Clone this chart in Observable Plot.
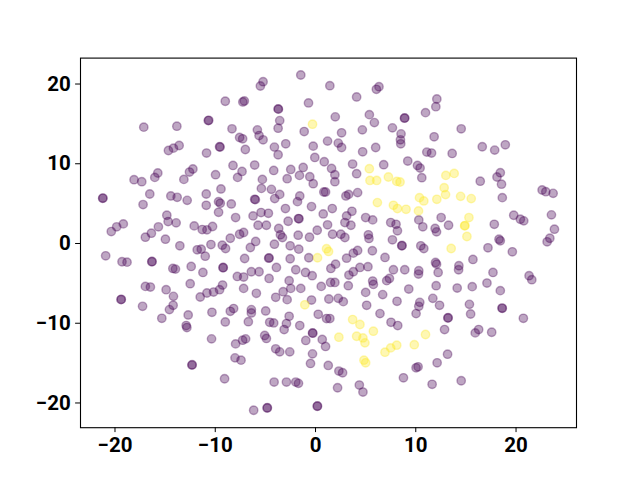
<!DOCTYPE html>
<html>
<head>
<meta charset="utf-8">
<script src="https://cdn.jsdelivr.net/npm/d3@7"></script>
<script src="https://cdn.jsdelivr.net/npm/@observablehq/plot@0.6"></script>
<style>
  html, body { margin: 0; padding: 0; background: #fff; }
  #chart svg { display: block; }
</style>
</head>
<body>
<div id="chart"></div>
<script>
// class 0 (purple) points: [x, y]
const class0 = [
[-9.0,17.84],[-7.25,17.75],[-7.1,17.88],[-10.7,15.41],[-10.65,15.45],[-17.13,14.59],[-13.83,14.71],[-8.33,14.38],
[-7.57,13.29],[-7.27,13.13],[-9.57,12.13],[-9.52,12.1],[-14.67,11.66],[-14.17,11.96],[-13.6,12.29],[-10.87,11.34],
[-7.0,11.79],[-8.23,9.79],[-7.33,9.04],[-15.73,8.84],[-16.03,8.29],[-12.23,9.34],[-12.57,8.96],[-9.97,8.63],
[-7.77,8.29],[-13.13,8.04],[-18.1,8.0],[-17.33,7.75],[-1.47,21.13],[-5.23,20.29],[-5.5,19.75],[1.43,19.79],
[6.33,19.66],[6.07,19.34],[4.1,18.38],[-0.7,17.63],[-3.73,16.88],[-3.7,16.85],[-3.57,15.41],[-3.73,14.46],
[1.97,15.88],[5.37,16.16],[5.87,15.16],[8.87,15.71],[8.9,15.75],[-5.8,14.25],[-5.63,13.54],[-5.23,13.0],
[-1.13,14.04],[2.6,13.88],[4.67,14.25],[7.67,14.5],[8.53,13.75],[8.47,13.0],[8.5,12.5],[-4.1,12.09],
[-3.73,11.13],[-2.97,12.5],[-0.23,12.21],[1.2,12.84],[2.27,12.59],[2.6,12.04],[4.7,11.5],[6.0,12.04],
[9.2,10.34],[-0.07,10.79],[0.87,10.25],[-6.07,9.84],[-4.17,9.16],[-2.47,9.29],[-1.23,9.54],[-1.6,8.54],
[-0.57,8.38],[1.6,9.41],[1.93,8.63],[3.7,9.96],[4.1,8.75],[6.8,9.88],[-5.3,8.04],[-2.83,8.13],
[-0.23,7.5],[1.93,7.75],[12.1,18.13],[12.0,17.16],[10.97,16.41],[14.53,14.38],[11.83,13.38],[11.1,11.46],
[11.57,11.34],[13.63,11.29],[16.63,12.13],[17.87,11.71],[18.93,12.38],[10.17,9.79],[10.43,9.46],[10.6,8.25],
[16.43,7.81],[18.43,8.88],[18.1,8.34],[18.55,7.44],[-21.23,5.66],[-21.2,5.7],[-16.53,6.21],[-14.43,5.96],
[-13.8,5.79],[-12.8,5.41],[-10.9,6.21],[-9.43,6.84],[-17.2,4.88],[-10.9,4.79],[-9.67,5.25],[-9.5,5.04],
[-8.4,4.96],[-9.67,3.91],[-14.83,3.54],[-14.7,2.75],[-13.9,2.59],[-7.97,3.25],[-19.17,2.46],[-19.83,2.09],
[-20.37,1.5],[-15.67,2.09],[-16.37,1.29],[-16.97,0.79],[-12.1,2.21],[-11.3,1.75],[-10.83,1.71],[-10.27,2.13],
[-14.97,0.54],[-7.57,1.16],[-7.17,1.38],[-8.5,0.66],[-13.53,-0.29],[-10.43,-0.13],[-9.3,-0.21],[-8.97,-0.63],
[-11.8,-0.79],[-11.4,-0.71],[-11.0,-1.59],[-20.93,-1.54],[-19.3,-2.29],[-18.8,-2.34],[-16.33,-2.29],[-16.3,-2.25],
[-7.07,-1.88],[-14.23,-3.13],[-13.97,-3.21],[-12.4,-2.88],[-11.23,-3.63],[-9.23,-3.04],[-9.2,-3.0],[-7.8,-4.13],
[-7.17,-4.21],[-12.5,-5.04],[-16.97,-5.38],[-16.47,-5.46],[-14.9,-5.79],[-14.17,-6.63],[-11.5,-6.71],[-10.83,-6.21],
[-10.17,-6.09],[-9.57,-5.79],[-9.27,-5.21],[-7.17,-5.63],[-19.4,-7.04],[-19.37,-7.0],[-17.25,-7.88],[-14.2,-7.75],
[-14.57,-8.29],[-15.33,-9.38],[-12.7,-8.96],[-12.9,-10.29],[-12.83,-10.54],[-10.33,-8.63],[-8.5,-8.5],[-8.17,-8.16],
[-9.0,-9.84],[-6.7,-9.81],[-10.37,-11.96],[-7.97,-12.59],[-7.27,-12.13],[-6.97,-11.96],[-12.33,-15.25],[-12.3,-15.2],
[-8.03,-14.34],[-7.43,-14.63],[-9.07,-16.96],[-5.4,6.91],[-4.4,6.79],[-3.57,6.16],[-4.07,5.63],[-6.07,5.54],
[-6.0,5.5],[-1.57,5.96],[-1.8,5.25],[0.83,6.46],[1.0,6.46],[3.03,5.96],[3.3,6.16],[4.2,6.38],
[-6.23,3.46],[-5.43,3.88],[-4.7,3.79],[-3.0,4.38],[-0.4,4.63],[0.77,3.71],[1.67,4.38],[3.63,4.04],
[3.1,3.46],[-1.7,3.13],[-1.65,3.1],[-5.73,2.29],[-4.9,2.29],[-2.73,2.79],[1.2,2.34],[2.93,2.63],
[3.53,2.29],[5.0,3.25],[5.7,2.96],[7.5,2.63],[8.03,2.41],[8.17,1.59],[-3.67,1.88],[-3.5,1.09],
[-3.3,0.75],[-1.73,1.04],[-0.6,0.79],[0.17,1.66],[1.7,1.16],[2.53,1.16],[2.93,0.75],[5.27,1.09],
[5.33,0.63],[7.67,0.46],[8.6,-0.29],[8.63,-0.25],[-5.97,0.25],[-6.5,-0.5],[-4.1,-0.09],[-2.53,-0.29],
[-1.67,-0.71],[-0.67,-1.79],[-2.53,-1.91],[-4.67,-1.84],[-4.63,-1.8],[3.1,-1.84],[3.77,-1.21],[4.2,-0.88],
[5.67,-0.91],[6.93,-1.75],[-3.9,-3.0],[-1.97,-3.29],[-1.0,-3.63],[-0.33,-4.04],[2.0,-2.59],[1.53,-3.13],
[3.77,-3.54],[3.33,-3.96],[4.43,-3.0],[5.23,-2.91],[7.77,-3.29],[8.9,-3.29],[-6.4,-3.54],[-5.63,-3.54],
[-4.63,-4.38],[-2.63,-4.66],[0.57,-5.38],[1.93,-4.88],[1.5,-4.88],[3.27,-5.29],[5.7,-4.71],[5.77,-5.13],
[7.1,-4.66],[7.37,-4.38],[9.3,-5.71],[-5.9,-6.25],[-3.97,-6.75],[-3.23,-6.04],[-2.47,-5.63],[-1.47,-5.63],
[-2.83,-7.04],[-0.4,-7.09],[1.33,-6.96],[2.27,-6.88],[2.77,-7.29],[5.0,-6.13],[6.7,-6.41],[8.13,-7.25],
[-6.4,-8.29],[-6.4,-8.71],[-4.97,-8.46],[-2.63,-9.13],[-2.9,-10.04],[-3.13,-10.79],[-4.57,-9.88],[-4.17,-9.96],
[-1.57,-10.29],[0.27,-8.88],[1.1,-9.41],[1.43,-9.41],[5.1,-7.75],[6.43,-8.79],[7.53,-9.88],[8.2,-10.29],
[-5.07,-11.54],[-4.9,-11.91],[-0.3,-11.21],[-0.27,-11.25],[-0.97,-12.16],[0.67,-12.04],[1.0,-12.91],[-3.97,-13.21],
[-3.57,-13.59],[-2.57,-13.59],[-0.3,-13.84],[-0.5,-15.04],[1.27,-15.29],[2.33,-16.0],[2.7,-16.21],[8.77,-16.84],
[-4.13,-17.38],[-2.9,-17.38],[-1.97,-17.38],[-1.7,-17.54],[2.2,-18.09],[4.37,-17.75],[4.73,-18.63],[-6.17,-20.91],
[-4.83,-20.63],[-4.8,-20.59],[0.17,-20.41],[0.2,-20.38],[10.4,-7.38],[10.3,-7.88],[10.03,-8.79],[12.37,-7.75],
[15.35,-7.63],[15.47,-8.84],[13.2,-9.34],[13.23,-9.3],[18.63,-8.13],[18.6,-8.1],[20.73,-9.38],[12.87,-10.79],
[15.93,-11.21],[16.27,-10.79],[17.57,-11.13],[13.17,-13.88],[12.13,-14.96],[10.03,-15.59],[10.23,-15.46],[11.63,-17.66],
[14.53,-17.21],[18.63,5.75],[22.6,6.71],[22.97,6.5],[23.7,6.29],[10.3,2.96],[10.7,2.09],[12.53,3.25],
[13.27,2.29],[11.93,1.88],[12.07,1.46],[17.83,2.41],[19.77,3.54],[20.43,3.04],[20.77,2.84],[23.53,3.59],
[23.83,1.79],[23.37,0.66],[23.1,0.21],[18.3,0.54],[18.43,0.34],[17.2,-0.54],[19.63,-1.04],[10.5,-0.29],
[10.8,-0.63],[11.97,-2.38],[12.07,-2.59],[10.3,-3.41],[10.27,-3.84],[12.23,-3.63],[14.3,-2.79],[14.27,-3.29],
[15.7,-2.0],[17.7,-3.63],[21.3,-4.04],[21.57,-4.54],[17.1,-4.96],[12.03,-5.29],[14.13,-5.59],[15.63,-5.41],
[18.43,-5.91],[11.7,-6.88]
];

// class 1 (yellow) points: [x, y]
const class1 = [
[-0.3,14.96],[5.37,9.38],[7.27,8.34],[5.43,7.91],[6.1,7.91],[8.1,7.79],[8.43,7.71],[13.0,8.54],
[13.83,8.79],[6.17,5.13],[7.77,4.79],[8.17,4.38],[9.03,4.29],[1.1,-0.65],[1.3,-1.0],[0.2,-1.79],
[-1.07,-7.69],[3.7,-9.54],[4.43,-10.16],[5.77,-11.0],[2.33,-11.75],[4.1,-11.63],[4.73,-11.84],[4.93,-12.46],
[6.93,-13.63],[7.5,-13.09],[8.1,-12.75],[9.85,-12.69],[4.83,-14.63],[5.0,-14.96],[10.97,-11.41],[12.83,7.0],
[12.97,6.13],[10.37,5.75],[10.8,5.34],[12.1,5.54],[14.47,5.91],[15.53,5.63],[10.27,4.09],[15.3,3.25],
[14.87,2.21],[14.9,2.25],[15.1,0.88],[13.53,-0.63]
];

const classColors = ["#440154", "#fde725"];
const xTicks = [-20, -10, 0, 10, 20];
const yTicks = [-20, -10, 0, 10, 20];
const xDomain = [-23.44, 26.03];
const yDomain = [-23.1, 23.25];

const data = [
  ...class0.map(([x, y]) => ({x, y, c: 0})),
  ...class1.map(([x, y]) => ({x, y, c: 1}))
];

const chart = Plot.plot({
  width: 640,
  height: 480,
  marginLeft: 80,
  marginRight: 64,
  marginTop: 57.6,
  marginBottom: 52.8,
  style: {
    fontFamily: "Roboto, 'DejaVu Sans', sans-serif",
    fontSize: "20.5px",
    fontWeight: "bold",
    color: "#000",
    background: "#fff"
  },
  x: {domain: xDomain, label: null},
  y: {domain: yDomain, label: null},
  color: {domain: [0, 1], range: classColors, type: "ordinal"},
  marks: [
    Plot.dot(data, {
      x: "x", y: "y",
      r: 4.2,
      fill: d => d.c,
      stroke: d => d.c,
      fillOpacity: 0.35,
      strokeOpacity: 0.35,
      strokeWidth: 1.4
    }),
    Plot.axisX({ticks: xTicks, tickSize: 4.9, tickPadding: 4.5, label: null, tickFormat: d3.format("d")}),
    Plot.axisY({ticks: yTicks, tickSize: 4.9, tickPadding: 4.9, label: null, tickFormat: d3.format("d")}),
    Plot.frame({stroke: "#000", strokeWidth: 1.1})
  ]
});

document.getElementById("chart").appendChild(chart);
</script>
</body>
</html>
